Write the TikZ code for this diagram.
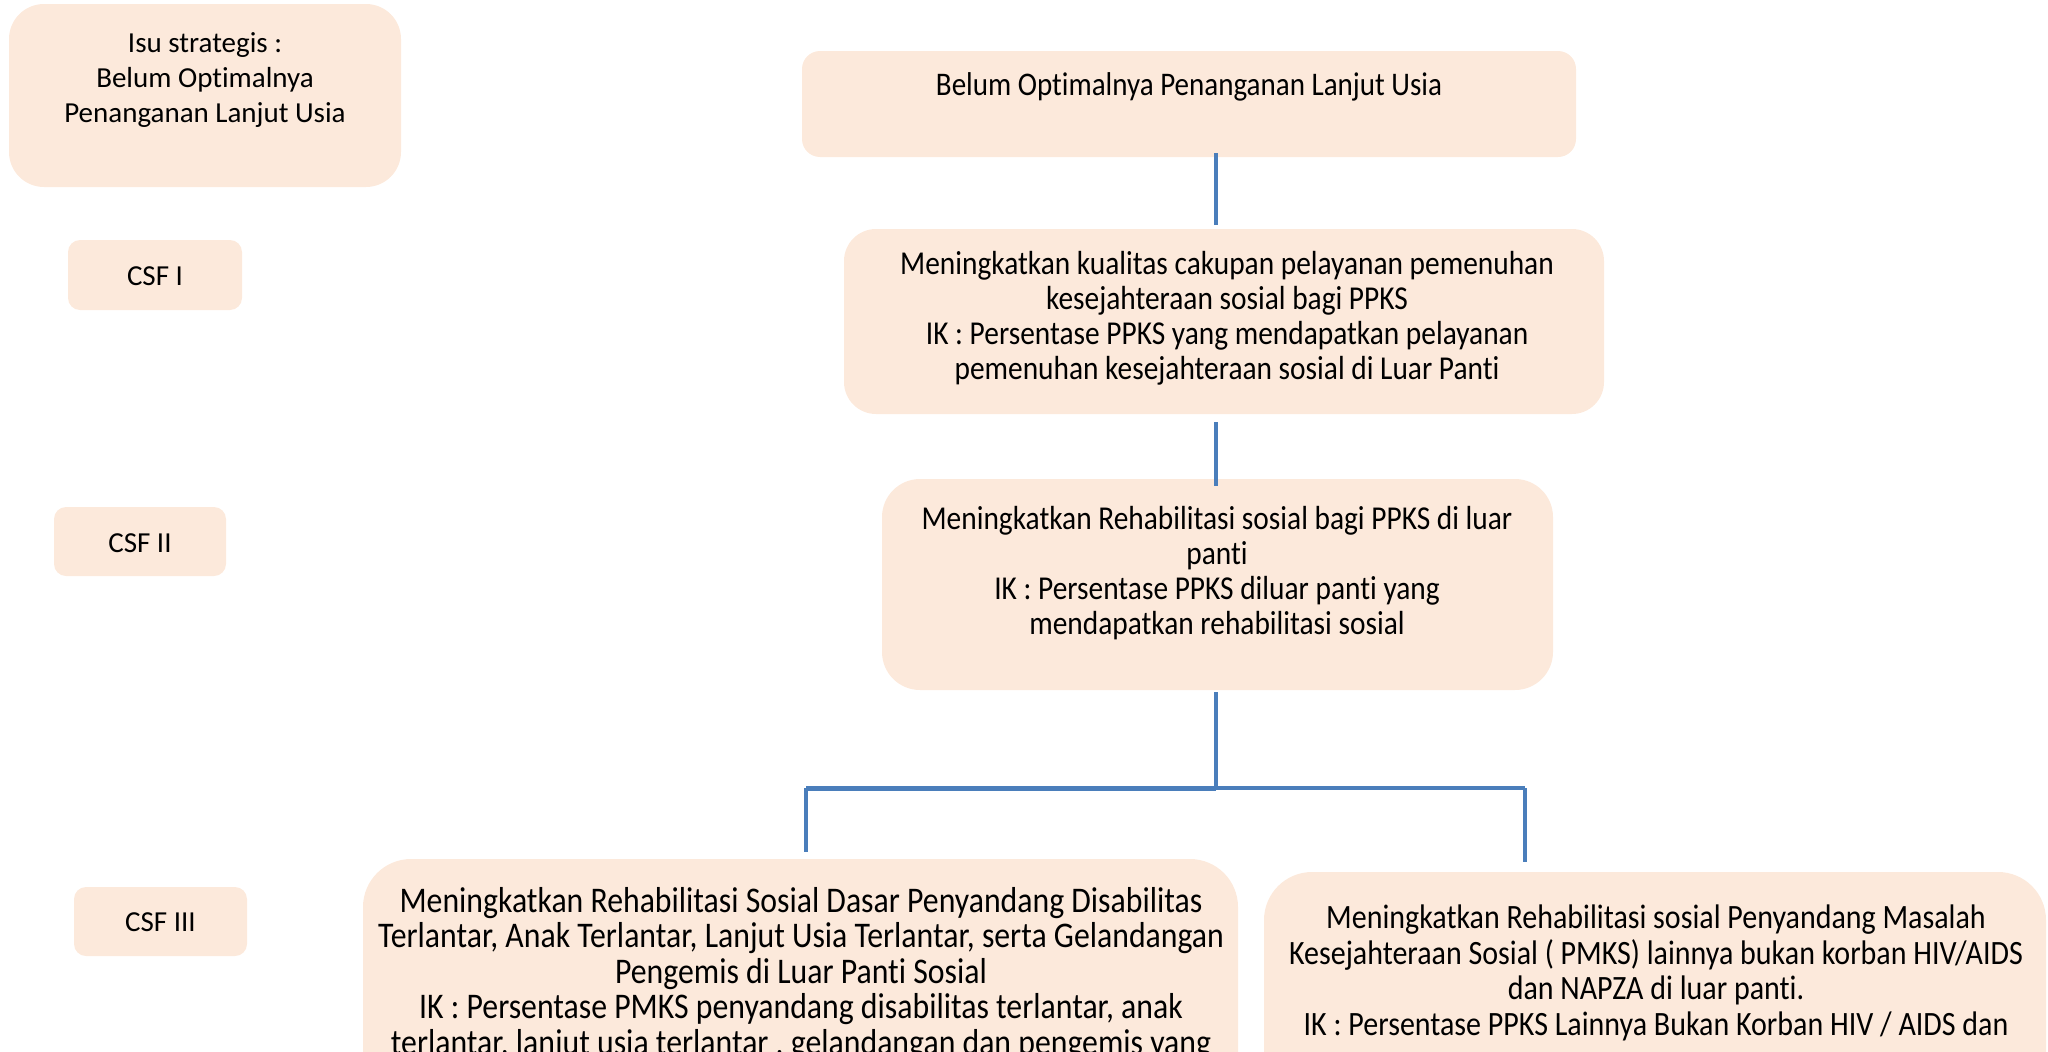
\documentclass[tikz,border=0pt]{standalone}
\usepackage{fontspec}
\setmainfont[Ligatures=NoCommon]{Carlito}
\newfontfamily\condfont[FakeStretch=0.88, Ligatures=NoCommon]{Carlito}
\definecolor{peach}{RGB}{252,233,219}
\definecolor{connblue}{RGB}{74,126,187}
\begin{document}
\begin{tikzpicture}[x=1pt,y=-1pt,
  panel/.style={fill=peach, draw=none, rectangle, inner sep=0pt},
  sidetxt/.style={align=center, inner sep=0pt, font=\fontsize{29}{35}\selectfont},
  maintxt/.style 2 args={align=center, inner sep=0pt, font=\condfont\fontsize{#1}{#2}\selectfont},
  link/.style={draw=connblue, line width=3.5pt}]
\useasboundingbox (0,0) rectangle (2048,1052);
\begin{scope}
\clip (0,0) rectangle (2048,1052);
% side boxes
\node[panel, rounded corners=35, minimum width=392, minimum height=183] (isu) at (205,95.5) {};
\node[panel, rounded corners=12, minimum width=174, minimum height=70] (csf1) at (155,275) {};
\node[panel, rounded corners=12, minimum width=172, minimum height=69] (csf2) at (140,541.5) {};
\node[panel, rounded corners=12, minimum width=173, minimum height=69] (csf3) at (160.5,921.5) {};
% main boxes
\node[panel, rounded corners=18, minimum width=774, minimum height=106] (top) at (1189,104) {};
\node[panel, rounded corners=32, minimum width=760, minimum height=185] (b2) at (1224,321.5) {};
\node[panel, rounded corners=38, minimum width=671, minimum height=211] (b3) at (1217.5,584.5) {};
\node[panel, rounded corners=48, minimum width=875, minimum height=261] (b4) at (800.5,989.5) {};
\node[panel, rounded corners=48, minimum width=782, minimum height=258] (b5) at (1655,1001) {};
% texts
\node[sidetxt] (isut) at (205,80) {Isu strategis :\\Belum Optimalnya\\Penanganan Lanjut Usia};
\node[sidetxt] (csf1t) at (155,276) {CSF I};
\node[sidetxt] (csf2t) at (140,543) {CSF II};
\node[sidetxt] (csf3t) at (160.5,922) {CSF III};
\node[maintxt={33}{35}] (topt) at (1189,87) {Belum Optimalnya Penanganan Lanjut Usia};
\node[maintxt={33.4}{35}] (b2t) at (1227,318) {Meningkatkan kualitas cakupan pelayanan pemenuhan\\kesejahteraan sosial bagi PPKS\\IK : Persentase PPKS yang mendapatkan pelayanan\\pemenuhan kesejahteraan sosial di Luar Panti};
\node[maintxt={33.4}{35}] (b3t) at (1217,573) {Meningkatkan Rehabilitasi sosial bagi PPKS di luar\\panti\\IK : Persentase PPKS diluar panti yang\\mendapatkan rehabilitasi sosial};
\node[maintxt={36.1}{35.5}, anchor=north] (b4t) at (801,887) {Meningkatkan Rehabilitasi Sosial Dasar Penyandang Disabilitas\\Terlantar, Anak Terlantar, Lanjut Usia Terlantar, serta Gelandangan\\Pengemis di Luar Panti Sosial\\IK : Persentase PMKS penyandang disabilitas terlantar, anak\\terlantar, lanjut usia terlantar , gelandangan dan pengemis yang};
\node[maintxt={34.1}{35.5}, anchor=north] (b5t) at (1656,905) {Meningkatkan Rehabilitasi sosial Penyandang Masalah\\Kesejahteraan Sosial ( PMKS) lainnya bukan korban HIV/AIDS\\dan NAPZA di luar panti.\\IK : Persentase PPKS Lainnya Bukan Korban HIV / AIDS dan};
% connectors
\coordinate (spine) at (1216,0);
\coordinate (fork) at (1216,788);
\coordinate (lft) at (806,788);
\coordinate (rgt) at (1525,788);
\draw[link] ([yshift=4pt]spine |- top.south) -- ([yshift=4pt]spine |- b2.north);
\draw[link] ([yshift=-8pt]spine |- b2.south) -- ([yshift=-7pt]spine |- b3.north);
\draw[link] ([yshift=-2pt]spine |- b3.south) -- (fork);
\draw[link, line width=5pt] (fork) -- (lft);
\draw[link] (fork) -- (rgt);
\draw[link] (lft) -- ([yshift=7pt]lft |- b4.north);
\draw[link] (rgt) -- ([yshift=10pt]rgt |- b5.north);
\end{scope}
\end{tikzpicture}
\end{document}
